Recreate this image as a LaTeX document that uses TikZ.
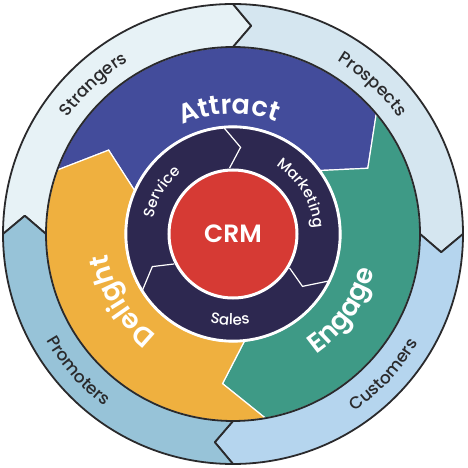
\documentclass[tikz,border=0pt]{standalone}
\usepackage{fontspec}
\setmainfont{Poppins}
\newfontfamily\popmedium{Poppins Medium}
\newfontfamily\popsemi{Poppins SemiBold}
\usetikzlibrary{decorations.text}

\definecolor{ringdark}{RGB}{42,42,44}
\definecolor{strangersfill}{RGB}{231,242,246}
\definecolor{prospectsfill}{RGB}{213,230,240}
\definecolor{customersfill}{RGB}{181,213,238}
\definecolor{promotersfill}{RGB}{151,195,216}
\definecolor{attractblue}{RGB}{67,76,155}
\definecolor{engagegreen}{RGB}{62,154,134}
\definecolor{delightorange}{RGB}{239,176,63}
\definecolor{teamnavy}{RGB}{45,40,80}
\definecolor{crmred}{RGB}{214,58,52}

\newcommand{\ringfont}{\popmedium\fontsize{17}{17}\selectfont}
\newcommand{\stagefont}{\popsemi\fontsize{27}{27}\selectfont}
\newcommand{\teamfont}{\popmedium\fontsize{15}{15}\selectfont}

\begin{document}
\begin{tikzpicture}[x=1pt, y=1pt,
    ringline/.style={draw=ringdark, line width=1.8pt, line join=round},
    split/.style={draw=white, line width=1.2pt},
    along/.style 2 args={decorate, decoration={text along path, text align=center,
        text format delimiters={|}{|}, text color=#1, text={#2}}}]
  \useasboundingbox (-233,-234) rectangle (235,234);
  % Stage ring
  \filldraw[split, fill=attractblue] (160:187) arc[start angle=160, end angle=40, radius=187]
    -- (26:150) -- (36:108) arc[start angle=36, end angle=156, radius=108] -- (146:150) -- cycle;
  \filldraw[split, fill=engagegreen] (40:187) arc[start angle=40, end angle=-80, radius=187]
    -- (-94:150) -- (-84:108) arc[start angle=-84, end angle=36, radius=108] -- (26:150) -- cycle;
  \filldraw[split, fill=delightorange] (280:187) arc[start angle=280, end angle=160, radius=187]
    -- (146:150) -- (156:108) arc[start angle=156, end angle=276, radius=108] -- (266:150) -- cycle;
  % Outer arrows
  \filldraw[ringline, fill=strangersfill] (180:230) arc[start angle=180, end angle=90, radius=230]
    -- (85:209) -- (90:187) arc[start angle=90, end angle=180, radius=187] -- (175:209) -- cycle;
  \filldraw[ringline, fill=prospectsfill] (90:230) arc[start angle=90, end angle=0, radius=230]
    -- (-5:209) -- (0:187) arc[start angle=0, end angle=90, radius=187] -- (85:209) -- cycle;
  \filldraw[ringline, fill=customersfill] (0:230) arc[start angle=0, end angle=-90, radius=230]
    -- (-95:209) -- (-90:187) arc[start angle=-90, end angle=0, radius=187] -- (-5:209) -- cycle;
  \filldraw[ringline, fill=promotersfill] (270:230) arc[start angle=270, end angle=180, radius=230]
    -- (175:209) -- (180:187) arc[start angle=180, end angle=270, radius=187] -- (265:209) -- cycle;
  % Teams
  \filldraw[fill=teamnavy, draw=white, line width=2.5pt] (0,0) circle[radius=107];
  \draw[split] (95:107) -- (85:87) -- (93:66);
  \draw[split] (-26:107) -- (-37:87) -- (-31:66);
  \draw[split] (212:107) -- (202:87) -- (207:66);
  % CRM
  \filldraw[fill=crmred, draw=white, line width=3pt] (0,0) circle[radius=64];
  \node[font=\popsemi\fontsize{25}{25}\selectfont, text=white] (crm) at (0,0) {CRM};
  % Labels
  \path[along={ringdark}{|\ringfont|Strangers}] (163:202) arc[start angle=163, end angle=103, radius=202];
  \path[along={ringdark}{|\ringfont|Prospects}] (77:202) arc[start angle=77, end angle=17, radius=202];
  \path[along={ringdark}{|\ringfont|Customers}] (-73:215) arc[start angle=-73, end angle=-13, radius=215];
  \path[along={ringdark}{|\ringfont|Promoters}] (191.5:215) arc[start angle=191.5, end angle=251.5, radius=215];
  \path[along={white}{|\stagefont|Attract}] (132:120) arc[start angle=132, end angle=52, radius=120];
  \path[along={white}{|\stagefont|Engage}] (-75:146) arc[start angle=-75, end angle=5, radius=146];
  \path[along={white}{|\stagefont|Delight}] (251:127) arc[start angle=251, end angle=171, radius=127];
  \path[along={white}{|\teamfont|Service}] (189.5:81) arc[start angle=189.5, end angle=109.5, radius=81];
  \path[along={white}{|\teamfont|Marketing}] (71:81) arc[start angle=71, end angle=-9, radius=81];
  \path[along={white}{|\teamfont|Sales}] (-132:91) arc[start angle=-132, end angle=-52, radius=91];
\end{tikzpicture}
\end{document}
